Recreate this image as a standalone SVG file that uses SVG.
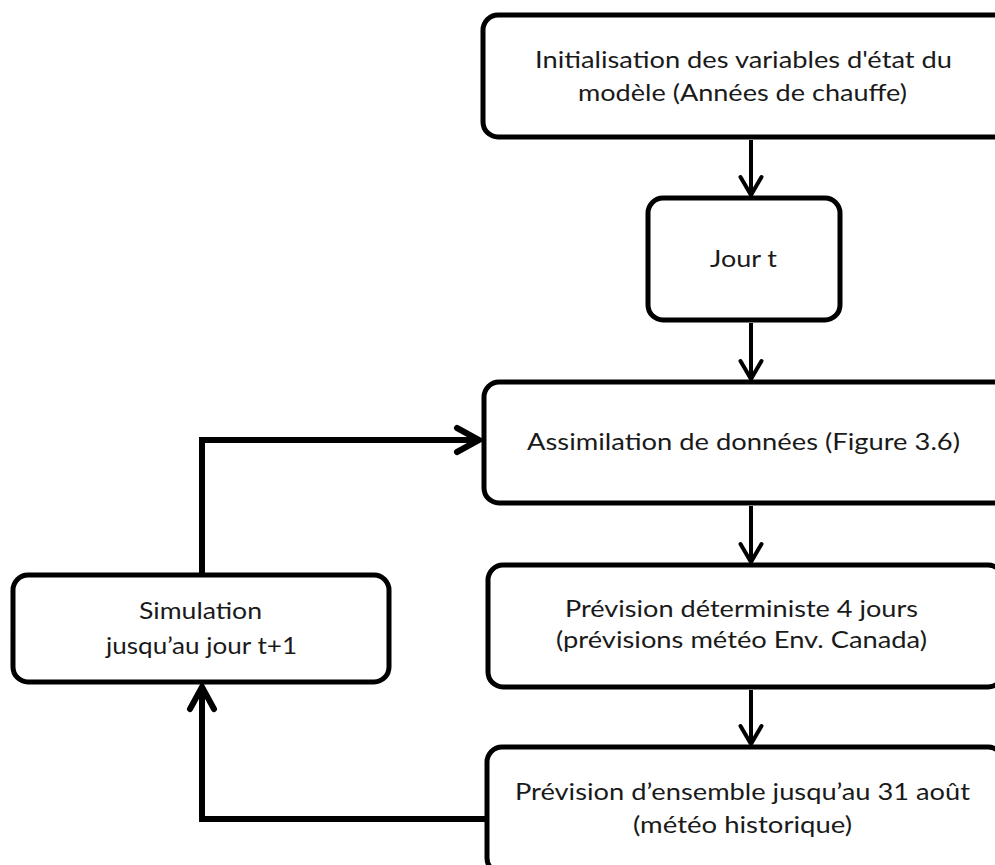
<svg xmlns="http://www.w3.org/2000/svg" width="995" height="865" viewBox="0 0 995 865">
  <style>
    .box { fill: #ffffff; stroke: #000000; stroke-width: 5; }
    .lbl { font-family: Lato, "Liberation Sans", sans-serif; font-size: 24px; fill: #1a1a1a; text-anchor: middle; }
    .thin { fill: none; stroke: #000000; stroke-width: 4; }
    .thick { fill: none; stroke: #000000; stroke-width: 6; }
  </style>
  <defs>
    <marker id="headThin" markerUnits="userSpaceOnUse" viewBox="-24 -16 28 32" markerWidth="28" markerHeight="32" refX="0" refY="0" orient="auto">
      <path d="M-18,-10.5 L0,0 L-18,10.5" fill="none" stroke="#000" stroke-width="4" stroke-linecap="round" stroke-linejoin="miter"/>
    </marker>
    <marker id="headThick" markerUnits="userSpaceOnUse" viewBox="-28 -18 32 36" markerWidth="32" markerHeight="36" refX="0" refY="0" orient="auto">
      <path d="M-22,-12 L0,0 L-22,12" fill="none" stroke="#000" stroke-width="6" stroke-linecap="round" stroke-linejoin="miter"/>
    </marker>
  </defs>
  <rect width="995" height="865" fill="#ffffff"/>

  <g id="connectors">
    <line class="thin" x1="751" y1="140" x2="751" y2="195" marker-end="url(#headThin)"/>
    <line class="thin" x1="751" y1="323" x2="751" y2="379" marker-end="url(#headThin)"/>
    <line class="thin" x1="751" y1="506" x2="751" y2="562" marker-end="url(#headThin)"/>
    <line class="thin" x1="751" y1="690" x2="751" y2="744" marker-end="url(#headThin)"/>
    <path class="thick" d="M485,819 H202 V687" marker-end="url(#headThick)"/>
    <path class="thick" d="M202,575 V440 H479" marker-end="url(#headThick)"/>
  </g>

  <g id="init">
    <rect class="box" x="483" y="15" width="527" height="122" rx="15"/>
    <text class="lbl" x="743.5" y="68" textLength="417" lengthAdjust="spacingAndGlyphs">Initialisation des variables d'état du</text>
    <text class="lbl" x="742.5" y="101" textLength="329" lengthAdjust="spacingAndGlyphs">modèle (Années de chauffe)</text>
  </g>

  <g id="jour">
    <rect class="box" x="648" y="198" width="192" height="122" rx="15"/>
    <text class="lbl" x="743.5" y="267" textLength="67" lengthAdjust="spacingAndGlyphs">Jour t</text>
  </g>

  <g id="assimilation">
    <rect class="box" x="484" y="382" width="526" height="121" rx="15"/>
    <text class="lbl" x="743.5" y="450" textLength="433" lengthAdjust="spacingAndGlyphs">Assimilation de données (Figure 3.6)</text>
  </g>

  <g id="deterministe">
    <rect class="box" x="488" y="565" width="515" height="122" rx="15"/>
    <text class="lbl" x="741.5" y="617" textLength="353" lengthAdjust="spacingAndGlyphs">Prévision déterministe 4 jours</text>
    <text class="lbl" x="741.5" y="648" textLength="371" lengthAdjust="spacingAndGlyphs">(prévisions météo Env. Canada)</text>
  </g>

  <g id="ensemble">
    <rect class="box" x="487" y="747" width="516" height="126" rx="15"/>
    <text class="lbl" x="742.5" y="800" textLength="455" lengthAdjust="spacingAndGlyphs">Prévision d’ensemble jusqu’au 31 août</text>
    <text class="lbl" x="742.5" y="833" textLength="219" lengthAdjust="spacingAndGlyphs">(météo historique)</text>
  </g>

  <g id="simulation">
    <rect class="box" x="13" y="575" width="376" height="107" rx="15"/>
    <text class="lbl" x="200.5" y="619" textLength="123" lengthAdjust="spacingAndGlyphs">Simulation</text>
    <text class="lbl" x="201.5" y="654" textLength="191" lengthAdjust="spacingAndGlyphs">jusqu’au jour t+1</text>
  </g>
</svg>
